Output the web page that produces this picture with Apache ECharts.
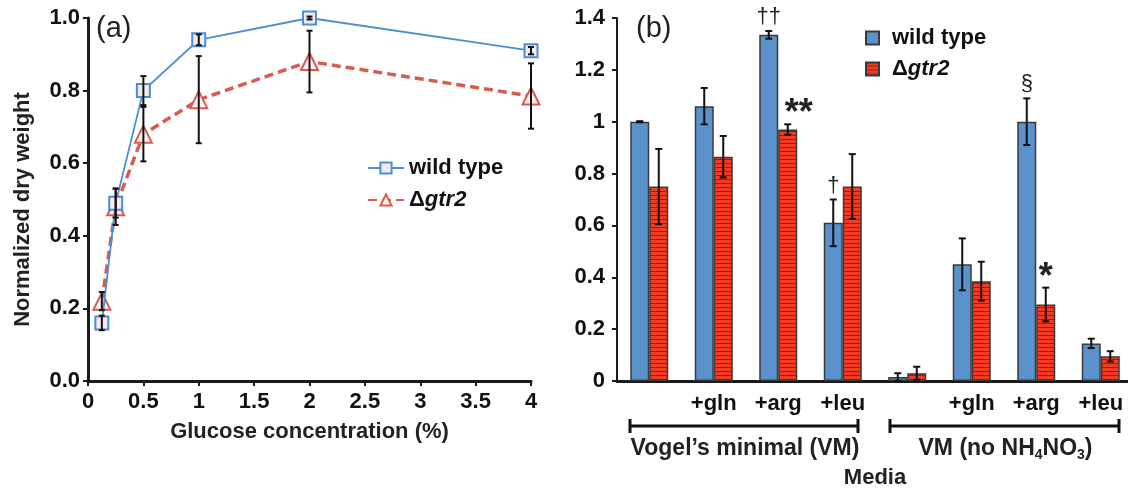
<!DOCTYPE html>
<html>
<head>
<meta charset="utf-8">
<script src="https://cdn.jsdelivr.net/npm/echarts@6/dist/echarts.min.js"></script>
<style>
  html, body { margin: 0; padding: 0; background: #fff; }
  #myChart { width: 1128px; height: 490px; }
</style>
</head>
<body>
<div id="myChart"></div>
<script>
// panel (a): dry weight vs glucose
const glucose = [0.125, 0.25, 0.5, 1, 2, 4];
const wtDry = [0.16, 0.49, 0.80, 0.94, 1.00, 0.91];
const wtDryErr = [0.02, 0.04, 0.04, 0.015, 0.004, 0.01];
const mutDry = [0.22, 0.48, 0.68, 0.775, 0.88, 0.785];
const mutDryErr = [0.025, 0.05, 0.075, 0.12, 0.085, 0.09];

// panel (b): media
const media = ['', '+gln', '+arg', '+leu', '', '+gln', '+arg', '+leu'];
const wtMedia = [1.00, 1.06, 1.335, 0.61, 0.015, 0.45, 1.00, 0.145];
const wtMediaErr = [0.002, 0.07, 0.015, 0.09, 0.015, 0.10, 0.09, 0.018];
const mutMedia = [0.75, 0.865, 0.97, 0.75, 0.03, 0.385, 0.295, 0.095];
const mutMediaErr = [0.145, 0.08, 0.02, 0.125, 0.025, 0.075, 0.065, 0.02];
const wtMarks = ['', '', '\u2020\u2020', '\u2020', '', '', '\u00a7', ''];
const mutMarks = ['', '', '**', '', '', '', '*', ''];

const font = '"Liberation Sans", Arial, sans-serif';
const blue = '#4a8fd3';
const red = '#d65c52';
const barW = 19;

// stripe pattern for the mutant bars
function stripes() {
  let c = document.createElement('canvas');
  c.width = 4; c.height = 4;
  let g = c.getContext('2d');
  g.fillStyle = '#f23b22';
  g.fillRect(0, 0, 4, 4);
  g.fillStyle = '#8e2416';
  g.fillRect(0, 3, 4, 1);
  return c;
}
const stripeFill = { image: stripes(), repeat: 'repeat' };

const gridA = { left: 88, top: 18, width: 443, height: 363, outerBoundsMode: 'none' };
const gridB = { left: 617, top: 18, width: 516, height: 363, outerBoundsMode: 'none' };

function errA(params, api) {
  let x = api.value(0), y = api.value(1), e = api.value(2);
  let top = api.coord([x, y + e]);
  let bot = api.coord([x, y - e]);
  let st = { stroke: '#111', lineWidth: 2 };
  return { type: 'group', children: [
    { type: 'line', shape: { x1: top[0], y1: top[1], x2: bot[0], y2: bot[1] }, style: st },
    { type: 'line', shape: { x1: top[0] - 3, y1: top[1], x2: top[0] + 3, y2: top[1] }, style: st },
    { type: 'line', shape: { x1: bot[0] - 3, y1: bot[1], x2: bot[0] + 3, y2: bot[1] }, style: st }
  ]};
}

function errB(side) {
  return function (params, api) {
    let i = api.value(0), y = api.value(1), e = api.value(2);
    let mark = (side < 0 ? wtMarks : mutMarks)[i];
    let top = api.coord([i, y + e]);
    let bot = api.coord([i, Math.max(y - e, 0)]);
    let x = top[0] + side * barW / 2;
    let st = { stroke: '#111', lineWidth: 2 };
    let kids = [
      { type: 'line', shape: { x1: x, y1: top[1], x2: x, y2: bot[1] }, style: st },
      { type: 'line', shape: { x1: x - 3.5, y1: top[1], x2: x + 3.5, y2: top[1] }, style: st },
      { type: 'line', shape: { x1: x - 3.5, y1: bot[1], x2: x + 3.5, y2: bot[1] }, style: st }
    ];
    if (mark) {
      let star = mark.indexOf('*') >= 0;
      kids.push({ type: 'text', style: {
        text: mark, x: x + (mark === '**' ? 11 : 0), y: top[1] + (star ? 8 : -3),
        align: 'center', verticalAlign: 'bottom',
        font: (star ? 'bold 36px ' : '22px ') + font, fill: '#222'
      }});
    }
    return { type: 'group', children: kids };
  };
}

// group brackets under the media axis
function bracket(x0, x1, label) {
  let y = 426;
  let st = { stroke: '#111', lineWidth: 3 };
  return [
    { type: 'line', shape: { x1: x0, y1: y, x2: x1, y2: y }, style: st },
    { type: 'line', shape: { x1: x0, y1: y - 7, x2: x0, y2: y + 7 }, style: st },
    { type: 'line', shape: { x1: x1, y1: y - 7, x2: x1, y2: y + 7 }, style: st },
    { type: 'text', style: { text: label, x: (x0 + x1) / 2 + 1, y: 449, align: 'center', verticalAlign: 'middle',
      rich: { m: { font: 'bold 23px ' + font, fill: '#222' }, s: { font: 'bold 14px ' + font, fill: '#222', padding: [12, 0, 0, 0] } },
      font: 'bold 23px ' + font, fill: '#222' } }
  ];
}

let myChart = echarts.init(document.getElementById('myChart'));
let graphics = [
  { type: 'text', left: 96, top: 14, style: { text: '(a)', font: '29px ' + font, fill: '#222' } },
  { type: 'text', left: 636, top: 14, style: { text: '(b)', font: '29px ' + font, fill: '#222' } }
].concat(
  bracket(630, 858, '{m|Vogel\u2019s minimal (VM)}'),
  bracket(890, 1119, '{m|VM (no NH}{s|4}{m|NO}{s|3}{m|)}')
);

const richLegend = {
  d: { fontSize: 22, fontWeight: 'bold', color: '#111' },
  i: { fontSize: 22, fontWeight: 'bold', fontStyle: 'italic', color: '#111' }
};

myChart.setOption({
  animation: false,
  textStyle: { fontFamily: font },
  grid: [gridA, gridB],
  legend: [
    {
      left: 362, top: 152, orient: 'vertical', itemGap: 10, itemWidth: 36, itemHeight: 14,
      data: ['wild type', '\u0394gtr2'],
      textStyle: { fontSize: 22, fontWeight: 'bold', color: '#111', rich: richLegend },
      formatter: n => n === 'wild type' ? '{d|wild type}' : '{d|\u0394}{i|gtr2}'
    },
    {
      left: 860, top: 22, orient: 'vertical', itemGap: 9, itemWidth: 13, itemHeight: 13,
      data: [{ name: 'wild type ', icon: 'rect' }, { name: '\u0394gtr2 ', icon: 'rect' }],
      textStyle: { fontSize: 22, fontWeight: 'bold', color: '#111', padding: [0, 0, 0, 8], rich: richLegend },
      formatter: n => n === 'wild type ' ? '{d|wild type}' : '{d|\u0394}{i|gtr2}'
    }
  ],
  xAxis: [
    {
      type: 'value', gridIndex: 0, min: 0, max: 4, interval: 0.5,
      name: 'Glucose concentration (%)', nameLocation: 'middle', nameGap: 40,
      nameTextStyle: { fontSize: 22, fontWeight: 'bold', color: '#222' },
      axisLine: { lineStyle: { color: '#1a1a1a', width: 3 } },
      axisTick: { length: 5, lineStyle: { color: '#1a1a1a', width: 2 } },
      axisLabel: { fontSize: 22, fontWeight: 'bold', color: '#111', margin: 10 },
      splitLine: { show: false }
    },
    {
      type: 'category', gridIndex: 1, data: media,
      name: 'Media', nameLocation: 'middle', nameGap: 86,
      nameTextStyle: { fontSize: 22, fontWeight: 'bold', color: '#222' },
      axisLine: { lineStyle: { color: '#1a1a1a', width: 3 } },
      axisTick: { show: false },
      axisLabel: { fontSize: 22, fontWeight: 'bold', color: '#111', margin: 12, interval: 0 }
    }
  ],
  yAxis: [
    {
      type: 'value', gridIndex: 0, min: 0, max: 1, interval: 0.2,
      name: 'Normalized dry weight', nameLocation: 'middle', nameGap: 54,
      nameTextStyle: { fontSize: 22, fontWeight: 'bold', color: '#222', padding: [0, 20, 0, 0] },
      axisLine: { show: true, lineStyle: { color: '#1a1a1a', width: 3 } },
      axisTick: { show: true, length: 5, lineStyle: { color: '#1a1a1a', width: 2 } },
      axisLabel: { fontSize: 22, fontWeight: 'bold', color: '#111', margin: 8, formatter: v => v.toFixed(1) },
      splitLine: { show: false }
    },
    {
      type: 'value', gridIndex: 1, min: 0, max: 1.4, interval: 0.2,
      axisLine: { show: true, lineStyle: { color: '#1a1a1a', width: 2 } },
      axisTick: { show: true, length: 5, lineStyle: { color: '#1a1a1a', width: 2 } },
      axisLabel: { fontSize: 22, fontWeight: 'bold', color: '#111', margin: 12 },
      splitLine: { show: false }
    }
  ],
  series: [
    {
      name: 'wild type', type: 'line', xAxisIndex: 0, yAxisIndex: 0,
      data: glucose.map((g, i) => [g, wtDry[i]]),
      lineStyle: { color: blue, width: 1.8 },
      symbol: 'rect', symbolSize: 13,
      itemStyle: { color: '#f5e9f0', borderColor: blue, borderWidth: 2 }, z: 3
    },
    {
      name: '\u0394gtr2', type: 'line', xAxisIndex: 0, yAxisIndex: 0,
      data: glucose.map((g, i) => [g, mutDry[i]]),
      lineStyle: { color: red, width: 3.5, type: [9, 5] },
      symbol: 'triangle', symbolSize: 17,
      itemStyle: { color: '#fbeeee', borderColor: red, borderWidth: 2 }, z: 2
    },
    {
      type: 'custom', xAxisIndex: 0, yAxisIndex: 0, renderItem: errA, z: 4,
      data: glucose.map((g, i) => [g, wtDry[i], wtDryErr[i]])
    },
    {
      type: 'custom', xAxisIndex: 0, yAxisIndex: 0, renderItem: errA, z: 4,
      data: glucose.map((g, i) => [g, mutDry[i], mutDryErr[i]])
    },
    {
      name: 'wild type ', type: 'bar', xAxisIndex: 1, yAxisIndex: 1, data: wtMedia,
      barWidth: barW, barGap: '0%',
      itemStyle: { color: '#5b92cc', borderColor: '#3a3a3a', borderWidth: 1.5 }
    },
    {
      name: '\u0394gtr2 ', type: 'bar', xAxisIndex: 1, yAxisIndex: 1, data: mutMedia,
      barWidth: barW, barGap: '0%',
      itemStyle: { color: stripeFill, borderColor: '#3a3a3a', borderWidth: 1.5 }
    },
    {
      type: 'custom', xAxisIndex: 1, yAxisIndex: 1, renderItem: errB(-1), z: 5,
      data: wtMedia.map((v, i) => [i, v, wtMediaErr[i]])
    },
    {
      type: 'custom', xAxisIndex: 1, yAxisIndex: 1, renderItem: errB(1), z: 5,
      data: mutMedia.map((v, i) => [i, v, mutMediaErr[i]])
    }
  ],
  graphic: graphics
});
</script>
</body>
</html>
